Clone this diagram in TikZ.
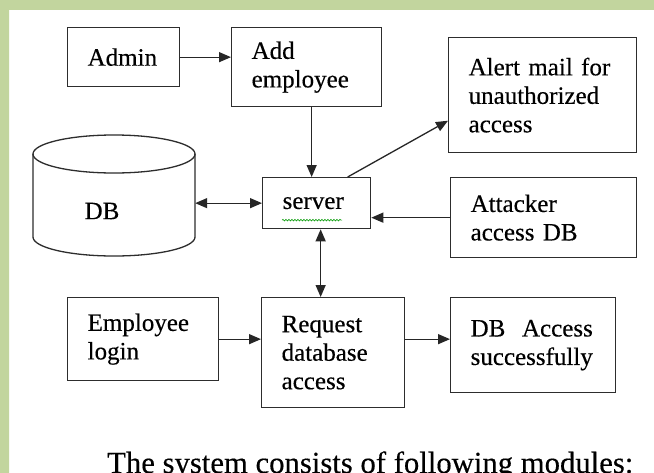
\documentclass[tikz,border=0pt]{standalone}
\usepackage{fontspec}
\setmainfont{Liberation Serif}[FakeBold=0.35]
\usetikzlibrary{arrows.meta,calc,decorations.pathmorphing}
\definecolor{frameGreen}{RGB}{194,213,158}
\definecolor{frameBlue}{RGB}{184,204,226}
\definecolor{inkgray}{RGB}{45,45,45}
\tikzset{
  box/.style={draw=inkgray, line width=1.3pt, rectangle, anchor=north west,
    inner xsep=20pt, inner ysep=0pt, align=left,
    font=\fontsize{25}{28.5}\selectfont},
  conn/.style={line width=1.3pt, draw=black!85},
  tip/.style={-{Triangle[length=12pt,width=10pt]}},
  tips/.style={{Triangle[length=12pt,width=10pt]}-{Triangle[length=12pt,width=10pt]}},
}
\begin{document}
\begin{tikzpicture}[x=1pt, y=-1pt]
  \useasboundingbox (0,0) rectangle (654,472);
  \clip (0,0) rectangle (654,472);
  % page and shaded frame strips
  \fill[white] (0,0) rectangle (654,472);
  \fill[left color=frameGreen, middle color=frameBlue, right color=frameGreen] (0,0) rectangle (654,9);
  \fill[top color=frameGreen, middle color=frameBlue, bottom color=frameGreen] (0,0) rectangle (9,472);

  % boxes
  \node[box, text width=72pt,  minimum height=59pt]  (admin) at (67,27)  {Admin};
  \node[box, text width=110pt, minimum height=79pt]  (add)   at (231,27) {Add\\employee};
  \node[box, text width=148pt, minimum height=115pt] (alert) at (448,37) {Alert mail for\\unauthorized\\access};
  \node[box, text width=68pt,  minimum height=51pt]  (srv)   at (262,177) {server};
  \node[box, text width=146pt, minimum height=80pt]  (atk)   at (450,177) {Attacker\\access DB};
  \node[box, text width=111pt, minimum height=83pt]  (emp)   at (67,297) {Employee\\login};
  \node[box, text width=103pt, minimum height=110pt] (req)   at (261,297) {Request\\database\\access};
  \node[box, text width=125pt, minimum height=95pt]  (acc)   at (450,297)
    {\setbox0=\hbox{successfully}\leavevmode\hbox to\wd0{DB\hfill Access}\\successfully};

  % database cylinder
  \node[minimum width=162pt, minimum height=122pt, inner sep=0pt] (db) at (114,196) {};
  \draw[draw=inkgray, line width=1.3pt] (114,154) ellipse [x radius=81pt, y radius=19pt];
  \draw[draw=inkgray, line width=1.3pt] (33,154) -- (33,237)
    arc[start angle=180, end angle=360, x radius=81pt, y radius=19pt] -- (195,154);
  \node[font=\fontsize{25}{28.5}\selectfont, inner sep=0pt] (dblabel) at (102,211) {DB};

  % spell-check squiggle under the server label
  \draw[green!60!black, line width=0.6pt, decorate,
        decoration={snake, segment length=3pt, amplitude=0.8pt}]
    ($(srv.west)+(20,17)$) -- ($(srv.west)+(80,17)$);

  % connectors
  \draw[conn,tip] (admin.east) -- (admin.east -| add.west);
  \draw[conn,tip] ([xshift=5pt]add.south) -- ([xshift=5pt]add.south |- srv.north);
  \draw[conn,tip] ([xshift=31pt]srv.north) -- ($(alert.south west)!0.28!(alert.north west)$);
  \draw[conn,tips] (db.east |- srv.west) -- (srv.west);
  \draw[conn,tip] (atk.west) -- (atk.west -| srv.east);
  \draw[conn,tips] ([xshift=4pt]srv.south) -- ([xshift=4pt]srv.south |- req.north);
  \draw[conn,tip] (emp.east) -- (emp.east -| req.west);
  \draw[conn,tip] (req.east |- emp.east) -- (acc.west |- emp.east);

  % caption
  \node[anchor=base west, inner sep=0pt, font=\fontsize{30.7}{34}\selectfont] (cap) at (107,473)
    {The system consists of following modules:};
\end{tikzpicture}
\end{document}
